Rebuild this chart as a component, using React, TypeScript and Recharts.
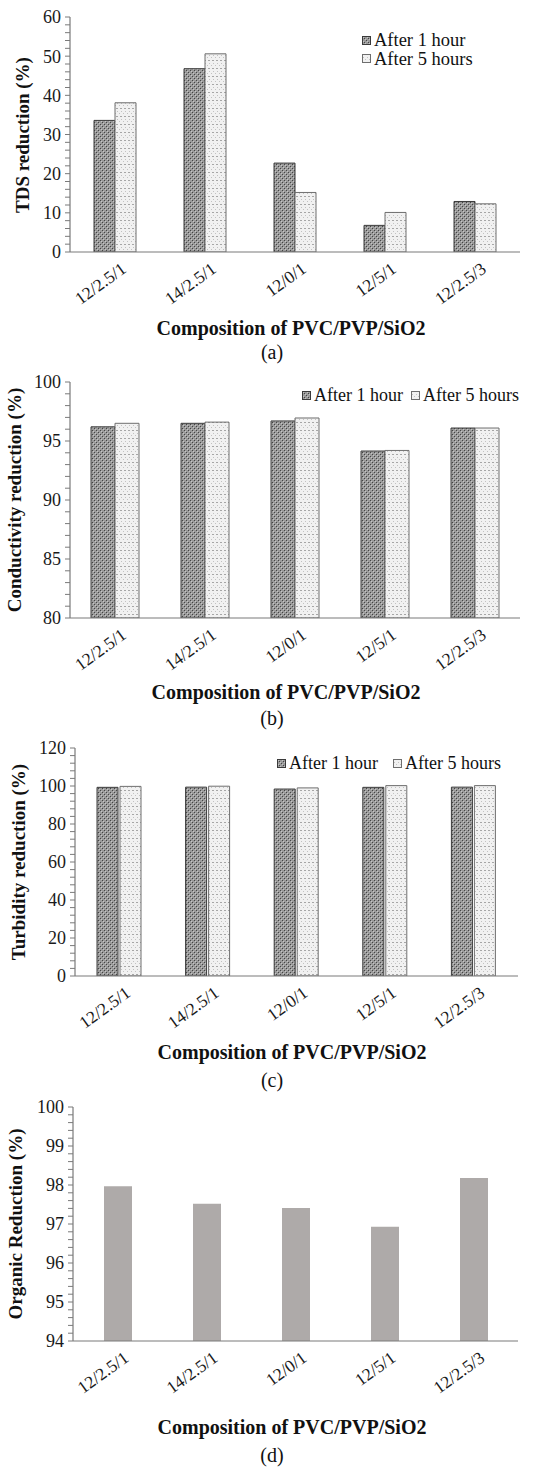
import React from "react";
import { Bar, BarChart, XAxis, YAxis } from "recharts";

/* data */
const categories = ["12/2.5/1", "14/2.5/1", "12/0/1", "12/5/1", "12/2.5/3"];
const tds1h = [33.6, 46.8, 22.7, 6.8, 12.9];
const tds5h = [38.1, 50.6, 15.2, 10.1, 12.3];
const cond1h = [96.2, 96.5, 96.7, 94.15, 96.1];
const cond5h = [96.5, 96.6, 96.95, 94.2, 96.1];
const turb1h = [99.3, 99.4, 98.4, 99.3, 99.4];
const turb5h = [99.8, 99.9, 99.0, 100.2, 100.2];
const organic = [97.97, 97.52, 97.41, 96.93, 98.18];

const seriesNames = ["After 1 hour", "After 5 hours"];
const xTitle = "Composition of PVC/PVP/SiO2";

const FONT = '"Liberation Serif", "DejaVu Serif", Times, serif';
const AXIS = "#7a7a7a";
const FRAME = "#a0a0a0";
const PAD = 12; // extra room above each plot so top tick labels are not clipped

function makeTicks(min: number, max: number, step: number) {
  const out: number[] = [];
  const n = Math.round((max - min) / step);
  for (let i = 0; i <= n; i++) out.push(+(min + i * step).toFixed(4));
  return out;
}

function rows(a: number[], b?: number[]) {
  return categories.map((name, i) => ({ name, a: a[i], b: b ? b[i] : undefined }));
}

function YTick(props: any) {
  const { x, y, payload, major } = props;
  const v = payload.value;
  if (Math.abs(v / major - Math.round(v / major)) > 1e-6) return <g />;
  return (
    <text x={x} y={y} dy="0.36em" textAnchor="end" fontSize={18} fill="#1a1a1a" fontFamily={FONT}>
      {Math.round(v)}
    </text>
  );
}

function XTick(props: any) {
  const { x, y, payload } = props;
  return (
    <g transform={`translate(${x + 4},${y})`}>
      <text transform="rotate(-36)" textAnchor="end" dy="0.8em" fontSize={17.5} fill="#1a1a1a" fontFamily={FONT}>
        {payload.value}
      </text>
    </g>
  );
}

type BarCfg = { key: string; fill: string; stroke?: string };

type PanelProps = {
  top: number;
  plot: { l: number; r: number; t: number; b: number };
  data: any[];
  domain: [number, number];
  minor: number;
  major: number;
  bars: BarCfg[];
  barSize: number;
  barGap: number;
  yLabel: string;
  yLabelX: number;
  titleY: number;
  titleX: number;
  caption: string;
  captionY: number;
  legend?: { left: number; top: number; vertical: boolean; gap: number; size: number };
};

function Swatch({ fill, stroke }: { fill: string; stroke?: string }) {
  return (
    <svg width={9} height={9} style={{ marginRight: 3, flexShrink: 0 }}>
      <rect x={0.5} y={0.5} width={8} height={8} fill={fill} stroke={stroke ?? "#666"} strokeWidth={1} />
    </svg>
  );
}

function Panel(p: PanelProps) {
  const h = p.plot.b + PAD + 64;
  const ticks = makeTicks(p.domain[0], p.domain[1], p.minor);
  const midY = (p.plot.t + p.plot.b) / 2;
  return (
    <>
      <div style={{ position: "absolute", left: 0, top: p.top - PAD }}>
        <BarChart
          width={536}
          height={h}
          data={p.data}
          margin={{ top: p.plot.t + PAD, right: 536 - p.plot.r, bottom: 0, left: 0 }}
          barGap={p.barGap}
          barSize={p.barSize}
        >
          <XAxis
            dataKey="name"
            height={64}
            tick={<XTick />}
            tickLine={false}
            interval={0}
            axisLine={{ stroke: AXIS, strokeWidth: 1.2 }}
          />
          <XAxis xAxisId="frame" orientation="top" dataKey="name" height={0} tick={false} tickLine={false} axisLine={{ stroke: FRAME }} />
          <YAxis
            width={p.plot.l}
            domain={p.domain}
            ticks={ticks}
            interval={0}
            allowDataOverflow
            tick={<YTick major={p.major} />}
            tickSize={5}
            tickMargin={4}
            tickLine={{ stroke: AXIS }}
            axisLine={{ stroke: AXIS, strokeWidth: 1.2 }}
          />
          <YAxis yAxisId="frame" orientation="right" width={0} tick={false} tickLine={false} axisLine={{ stroke: FRAME }} />
          {p.bars.map((b) => (
            <Bar
              key={b.key}
              dataKey={b.key}
              fill={b.fill}
              stroke={b.stroke}
              strokeWidth={b.stroke ? 1 : 0}
              isAnimationActive={false}
            />
          ))}
        </BarChart>
      </div>
      <div
        style={{
          position: "absolute",
          left: p.yLabelX,
          top: p.top + midY,
          transform: "translate(-50%,-50%) rotate(-90deg)",
          whiteSpace: "nowrap",
          fontWeight: "bold",
          fontSize: 19,
          lineHeight: "19px",
          color: "#111",
        }}
      >
        {p.yLabel}
      </div>
      <div
        style={{
          position: "absolute",
          left: p.titleX,
          top: p.top + p.titleY,
          transform: "translate(-50%,-50%)",
          whiteSpace: "nowrap",
          fontWeight: "bold",
          fontSize: 20,
          lineHeight: "20px",
          color: "#111",
        }}
      >
        {xTitle}
      </div>
      <div
        style={{
          position: "absolute",
          left: 272,
          top: p.top + p.captionY,
          transform: "translate(-50%,-50%)",
          fontSize: 20,
          lineHeight: "20px",
          color: "#111",
        }}
      >
        {p.caption}
      </div>
      {p.legend && (
        <div
          style={{
            position: "absolute",
            left: p.legend.left,
            top: p.top + p.legend.top,
            display: "flex",
            flexDirection: p.legend.vertical ? "column" : "row",
            gap: p.legend.gap,
            fontSize: p.legend.size,
            lineHeight: `${p.legend.size}px`,
            color: "#111",
          }}
        >
          {p.bars.map((b, i) => (
            <div key={b.key} style={{ display: "flex", alignItems: "center", whiteSpace: "nowrap" }}>
              <Swatch fill={b.fill} stroke={b.stroke} />
              {seriesNames[i]}
            </div>
          ))}
        </div>
      )}
    </>
  );
}

const darkBar: BarCfg = { key: "a", fill: "url(#pDark)", stroke: "#3a3a3a" };
const lightBar: BarCfg = { key: "b", fill: "url(#pLight)", stroke: "#6e6e6e" };

export default function App() {
  return (
    <div style={{ position: "absolute", left: 0, top: 0, width: 536, height: 1473, fontFamily: FONT, background: "#fff" }}>
      <svg width={0} height={0} style={{ position: "absolute" }}>
        <defs>
          <pattern id="pDark" width="4" height="4" patternUnits="userSpaceOnUse">
            <rect width="4" height="4" fill="#9a9a9a" />
            <rect x="0" y="0" width="1" height="1" fill="#454545" />
            <rect x="2" y="2" width="1" height="1" fill="#454545" />
            <rect x="1" y="1" width="1" height="1" fill="#c6c6c6" />
            <rect x="3" y="3" width="1" height="1" fill="#c6c6c6" />
          </pattern>
          <pattern id="pLight" width="4" height="8" patternUnits="userSpaceOnUse">
            <rect width="4" height="8" fill="#f1f1f1" />
            <rect x="0" y="0" width="2" height="1" fill="#a6a6a6" />
            <rect x="1" y="3" width="1" height="1" fill="#c2c2c2" />
            <rect x="3" y="5" width="1" height="1" fill="#c2c2c2" />
          </pattern>
        </defs>
      </svg>

      <Panel
        top={0}
        plot={{ l: 70, r: 520, t: 17, b: 252 }}
        data={rows(tds1h, tds5h)}
        domain={[0, 60]}
        minor={2}
        major={10}
        bars={[darkBar, lightBar]}
        barSize={21}
        barGap={0}
        yLabel="TDS reduction (%)"
        yLabelX={22}
        titleX={291}
        titleY={328}
        caption="(a)"
        captionY={352}
        legend={{ left: 362, top: 31, vertical: true, gap: 0, size: 18.5 }}
      />

      <Panel
        top={370}
        plot={{ l: 70, r: 520, t: 12, b: 248 }}
        data={rows(cond1h, cond5h)}
        domain={[80, 100]}
        minor={1}
        major={5}
        bars={[darkBar, lightBar]}
        barSize={24}
        barGap={0}
        yLabel="Conductivity reduction (%)"
        yLabelX={14}
        titleX={286}
        titleY={322}
        caption="(b)"
        captionY={348}
        legend={{ left: 302, top: 16, vertical: false, gap: 8, size: 18 }}
      />

      <Panel
        top={730}
        plot={{ l: 75, r: 518, t: 18, b: 246 }}
        data={rows(turb1h, turb5h)}
        domain={[0, 120]}
        minor={4}
        major={20}
        bars={[darkBar, lightBar]}
        barSize={21}
        barGap={2}
        yLabel="Turbidity reduction (%)"
        yLabelX={18}
        titleX={292}
        titleY={322}
        caption="(c)"
        captionY={350}
        legend={{ left: 277, top: 24, vertical: false, gap: 15, size: 18 }}
      />

      <Panel
        top={1100}
        plot={{ l: 73, r: 518, t: 7, b: 241 }}
        data={rows(organic)}
        domain={[94, 100]}
        minor={0.2}
        major={1}
        bars={[{ key: "a", fill: "#aeaaa9" }]}
        barSize={28}
        barGap={0}
        yLabel="Organic Reduction (%)"
        yLabelX={15}
        titleX={292}
        titleY={327}
        caption="(d)"
        captionY={355}
      />
    </div>
  );
}
